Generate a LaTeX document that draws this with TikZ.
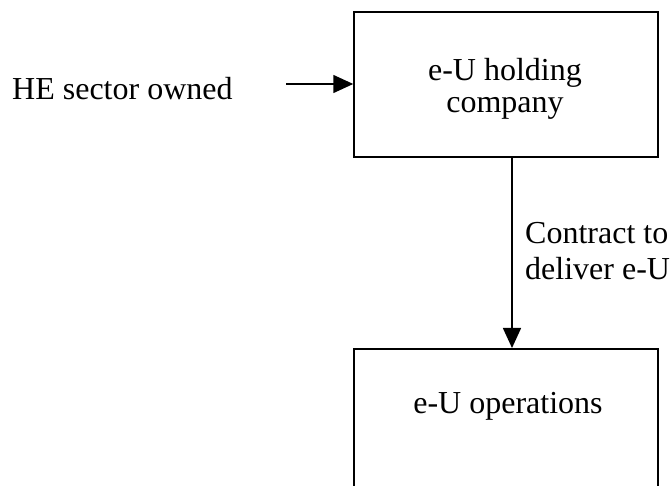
\documentclass[tikz,border=0pt]{standalone}
\usepackage{fontspec}
\setmainfont{Liberation Serif}
\usetikzlibrary{arrows.meta,calc}

\begin{document}
\begin{tikzpicture}[x=1pt,y=-1pt,
  BoxStl/.style={draw,line width=1.5pt,minimum width=304pt,inner sep=0pt},
  ArrStl/.style={line width=1.5pt,-{Triangle[length=20pt,width=18pt]}},
  TxtStl/.style={font=\fontsize{32}{32}\selectfont,align=center,inner sep=0pt}]
\useasboundingbox (0,0) rectangle (672,486);
\clip (0,0) rectangle (672,486);

\node[BoxStl,minimum height=145pt] (hold) at (506,84.5) {};
\node[TxtStl,anchor=north] (holdTxt) at (505,58) {e-U holding\\company};

\node[BoxStl,minimum height=200pt,anchor=north] (ops) at (506,348) {};
\node[TxtStl,anchor=base] (opsTxt) at (508,413) {e-U operations};

\node[TxtStl,anchor=base west] (owner) at (12,100) {HE sector owned};
\coordinate (ownStart) at (286,84);
\coordinate (midX) at (512,0);

\draw[ArrStl] (ownStart) -- (ownStart -| hold.west);
\draw[ArrStl] (hold.south -| midX) -- (ops.north -| midX);

\node[TxtStl,font=\fontsize{32}{36}\selectfont,align=left,anchor=north west] (contract) at (525,222) {Contract to\\deliver e-U};

\end{tikzpicture}
\end{document}
